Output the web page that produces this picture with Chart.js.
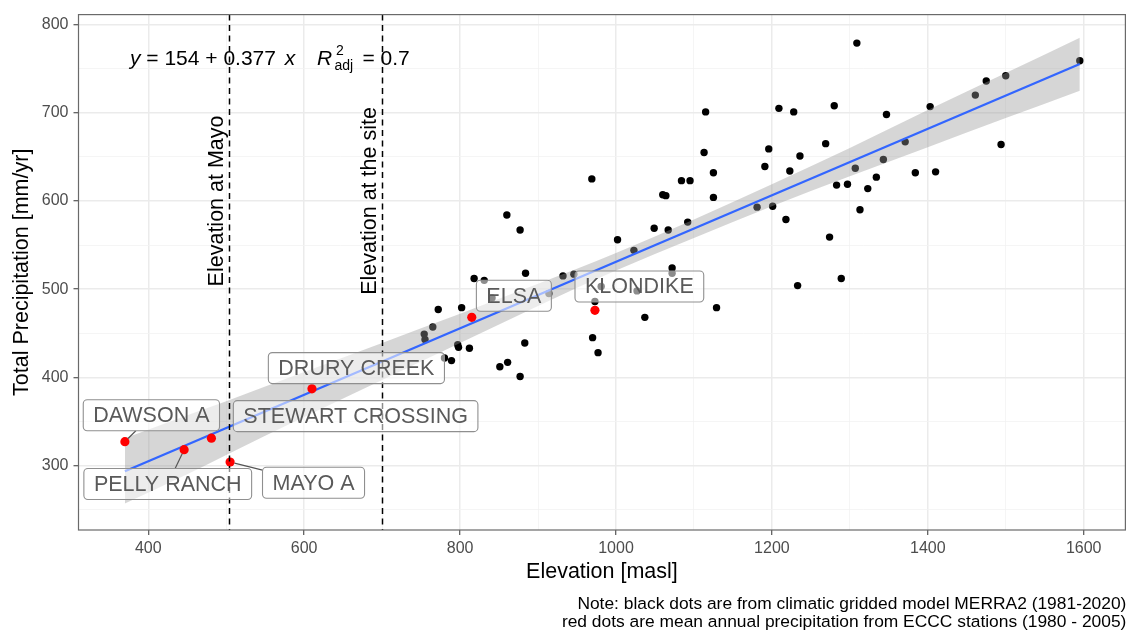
<!DOCTYPE html>
<html><head><meta charset="utf-8">
<script src="https://cdn.jsdelivr.net/npm/chart.js@4.4.1/dist/chart.umd.min.js"></script>
<style>html,body{margin:0;padding:0;background:#fff;}canvas{display:block;}</style>
</head><body>
<canvas id="c" width="1130" height="633"></canvas>
<script>
// ---- data ----
const merraElev = [860, 877, 969, 1002, 1023, 1049, 1060, 1064, 1067, 1084, 1095, 1092, 1115, 1113, 1125, 1125,
  1181, 1201, 1218, 1191, 1196, 1209, 1228, 1223, 1236, 1309, 1280, 1347, 1269, 1307, 1343, 1283, 1297, 1323,
  1334, 1313, 1274, 1384, 1410, 1371, 1403, 1461, 1475, 1500, 1494, 1595, 818, 831, 884, 932, 946, 1072, 1072,
  772, 802, 765, 754, 755, 797, 798, 812, 780, 789, 883, 851, 861, 877, 914, 970, 977, 1037, 1129, 1233, 973,
  1289, 841, 981, 1027];
const merraPrecip = [584, 567, 625, 556, 544, 569, 607, 606, 567, 623, 623, 576, 701, 655, 632, 604,
  593, 594, 579, 639, 659, 705, 701, 634, 651, 779, 708, 698, 665, 637, 647, 618, 619, 614,
  627, 590, 559, 632, 633, 667, 707, 720, 736, 742, 664, 759, 512, 510, 518, 515, 517, 524, 518,
  477, 479, 457, 449, 443, 437, 434, 433, 422, 419, 439, 412, 417, 401, 495, 445, 428, 468, 479, 504, 486,
  512, 490, 503, 498];
const stationNames = ['DAWSON A', 'PELLY RANCH', 'STEWART CROSSING', 'MAYO A', 'DRURY CREEK', 'ELSA', 'KLONDIKE'];
const stationElev = [370, 446, 481, 505, 610, 815, 973];
const stationPrecip = [327, 318, 331, 304, 387, 468, 476];
const fitElev = [370, 1595];
const fitPrecip = [293.5, 755.3];
const bandElev = [370, 450, 500, 600, 700, 800, 900, 1000, 1100, 1200, 1300, 1400, 1500, 1595];
const bandLower = [257, 290, 312, 355, 397, 439, 481, 521, 558, 594, 628, 661, 694, 725];
const bandUpper = [331, 357, 373, 406, 439, 472, 506, 541, 579, 619, 660, 703, 745, 785];
const refLineElev = [504, 700];
const refLineText = ['Elevation at Mayo', 'Elevation at the site'];
const xTickLabels = [400, 600, 800, 1000, 1200, 1400, 1600];
const yTickLabels = [300, 400, 500, 600, 700, 800];

// ---- layout / style ----
const FONT = '"Liberation Sans", Arial, Helvetica, sans-serif';
// label centres in data units (as placed by the repel layout) + whether a segment shows
const labelLayout = {
  'DAWSON A': {x: 404, y: 357, seg: true},
  'PELLY RANCH': {x: 425, y: 279, seg: true},
  'STEWART CROSSING': {x: 666, y: 356, seg: false},
  'MAYO A': {x: 612, y: 280.5, seg: true},
  'DRURY CREEK': {x: 667, y: 410.5, seg: false},
  'ELSA': {x: 869, y: 492.5, seg: false},
  'KLONDIKE': {x: 1030, y: 503, seg: false}
};

const pts = (xs, ys) => xs.map((v, i) => ({x: v, y: ys[i]}));

const overlay = {
  id: 'overlay',
  afterDraw(chart) {
    const {ctx, chartArea: a, scales: {x, y}} = chart;
    ctx.save();
    ctx.beginPath();
    ctx.rect(a.left, a.top, a.right - a.left, a.bottom - a.top);
    ctx.clip();
    // dashed reference lines + rotated texts
    refLineElev.forEach((v, i) => {
      const px = Math.round(x.getPixelForValue(v)) + 0.5;
      ctx.strokeStyle = '#000';
      ctx.lineWidth = 1.5;
      ctx.setLineDash([6, 4.5]);
      ctx.beginPath(); ctx.moveTo(px, a.top); ctx.lineTo(px, a.bottom); ctx.stroke();
      ctx.setLineDash([]);
      ctx.save();
      ctx.translate(px - 6.5, y.getPixelForValue(600));
      ctx.rotate(-Math.PI / 2);
      ctx.fillStyle = '#000';
      ctx.font = '21.5px ' + FONT;
      ctx.textAlign = 'center';
      ctx.textBaseline = 'alphabetic';
      ctx.fillText(refLineText[i], 0, 0);
      ctx.restore();
    });
    // repel-style labels
    ctx.font = '21.5px ' + FONT;
    stationNames.forEach((name, i) => {
      const L = labelLayout[name];
      const cx = x.getPixelForValue(L.x), cy = y.getPixelForValue(L.y);
      const tw = ctx.measureText(name).width;
      const w = tw + 20, h = 31;
      const bx = cx - w / 2, by = cy - h / 2;
      if (L.seg) {
        const ppx = x.getPixelForValue(stationElev[i]), ppy = y.getPixelForValue(stationPrecip[i]);
        const dx = cx - ppx, dy = cy - ppy;
        let t = 1;
        if (dx !== 0) { const tx = ((dx > 0 ? bx : bx + w) - ppx) / dx; if (tx > 0 && tx < t) { const yy = ppy + tx * dy; if (yy >= by && yy <= by + h) t = tx; } }
        if (dy !== 0) { const ty = ((dy > 0 ? by : by + h) - ppy) / dy; if (ty > 0 && ty < t) { const xx = ppx + ty * dx; if (xx >= bx && xx <= bx + w) t = ty; } }
        const len = Math.hypot(dx, dy);
        const s = 4.5 / len;
        ctx.strokeStyle = '#555';
        ctx.lineWidth = 1.2;
        ctx.beginPath();
        ctx.moveTo(ppx + s * dx, ppy + s * dy);
        ctx.lineTo(ppx + t * dx, ppy + t * dy);
        ctx.stroke();
      }
      ctx.beginPath();
      ctx.roundRect(bx, by, w, h, 4);
      ctx.fillStyle = 'rgba(255,255,255,0.55)';
      ctx.fill();
      ctx.strokeStyle = '#8f8f8f';
      ctx.lineWidth = 1.1;
      ctx.stroke();
      ctx.fillStyle = '#5a5a5a';
      ctx.textAlign = 'center';
      ctx.textBaseline = 'middle';
      ctx.fillText(name, cx, cy + 1);
    });
    ctx.restore();

    // regression equation
    ctx.save();
    ctx.fillStyle = '#000';
    ctx.textBaseline = 'alphabetic';
    ctx.textAlign = 'left';
    const ex = a.left + 51.5, ey = a.top + 50;
    let cur = ex;
    ctx.font = 'italic 21px ' + FONT; ctx.fillText('y', cur, ey); cur += ctx.measureText('y').width;
    ctx.font = '21px ' + FONT; const mid = ' = 154 + 0.377 '; ctx.fillText(mid, cur, ey); cur += ctx.measureText(mid).width;
    ctx.font = 'italic 21px ' + FONT; ctx.fillText('x', cur + 3, ey);
    ctx.fillText('R', ex + 187, ey);
    ctx.font = '14px ' + FONT;
    ctx.fillText('2', ex + 206, ey - 10);
    ctx.fillText('adj', ex + 204.5, ey + 5);
    ctx.font = '21px ' + FONT;
    ctx.fillText('= 0.7', ex + 232.5, ey);
    ctx.restore();

    // panel border
    ctx.save();
    ctx.strokeStyle = '#6a6a6a';
    ctx.lineWidth = 1.2;
    ctx.strokeRect(a.left, a.top, a.right - a.left, a.bottom - a.top);
    // axis titles
    ctx.fillStyle = '#000';
    ctx.font = '21.5px ' + FONT;
    ctx.textAlign = 'center';
    ctx.textBaseline = 'alphabetic';
    ctx.fillText('Elevation [masl]', (a.left + a.right) / 2, 578);
    ctx.save();
    ctx.translate(28, (a.top + a.bottom) / 2);
    ctx.rotate(-Math.PI / 2);
    ctx.fillText('Total Precipitation [mm/yr]', 0, 0);
    ctx.restore();
    // caption
    ctx.font = '17.4px ' + FONT;
    ctx.textAlign = 'right';
    ctx.fillText('Note: black dots are from climatic gridded model MERRA2 (1981-2020)', a.right + 1, 609);
    ctx.fillText('red dots are mean annual precipitation from ECCC stations (1980 - 2005)', a.right + 1, 627);
    ctx.restore();
  }
};

const gridColor = (list) => (c) => list.includes(c.tick && c.tick.value) ? '#ebebeb' : '#f3f3f3';
const gridWidth = (list) => (c) => list.includes(c.tick && c.tick.value) ? 1.5 : 0.8;
const tickColor = (list) => (c) => list.includes(c.tick && c.tick.value) ? '#333' : 'rgba(0,0,0,0)';

new Chart(document.getElementById('c'), {
  type: 'scatter',
  data: {
    datasets: [
      {label: 'ECCC stations', data: pts(stationElev, stationPrecip), backgroundColor: '#ff0000',
        pointRadius: 4.6, pointBorderWidth: 0, borderWidth: 0, showLine: false},
      {label: 'fit', type: 'line', data: pts(fitElev, fitPrecip), borderColor: '#3366ff', borderWidth: 2.3,
        pointRadius: 0, fill: false},
      {label: 'upper', type: 'line', data: pts(bandElev, bandUpper), borderColor: 'rgba(0,0,0,0)', borderWidth: 0.01,
        pointRadius: 0, fill: '+1', backgroundColor: 'rgba(153,153,153,0.4)', cubicInterpolationMode: 'monotone'},
      {label: 'lower', type: 'line', data: pts(bandElev, bandLower), borderColor: 'rgba(0,0,0,0)', borderWidth: 0.01,
        pointRadius: 0, fill: false, cubicInterpolationMode: 'monotone'},
      {label: 'MERRA2', data: pts(merraElev, merraPrecip), backgroundColor: '#000',
        pointRadius: 3.7, pointBorderWidth: 0, borderWidth: 0, showLine: false}
    ]
  },
  options: {
    responsive: false,
    animation: false,
    devicePixelRatio: 1,
    events: [],
    layout: {padding: {top: 10.7, right: 4, left: 0, bottom: 0}},
    plugins: {legend: {display: false}, tooltip: {enabled: false}},
    scales: {
      x: {
        type: 'linear', min: 310.5, max: 1653.5,
        afterFit: (s) => { s.height = 103; },
        border: {display: false},
        grid: {color: gridColor(xTickLabels), lineWidth: gridWidth(xTickLabels), tickLength: 5,
          tickColor: tickColor(xTickLabels), tickWidth: 1},
        ticks: {stepSize: 100, includeBounds: false, autoSkip: false, maxRotation: 0, padding: 4,
          color: '#4d4d4d', font: {family: FONT, size: 16},
          callback: (v) => xTickLabels.includes(v) ? String(v) : ''}
      },
      y: {
        type: 'linear', min: 226.9, max: 811.3,
        afterFit: (s) => { s.width = 78.5; },
        border: {display: false},
        grid: {color: gridColor(yTickLabels), lineWidth: gridWidth(yTickLabels), tickLength: 5,
          tickColor: tickColor(yTickLabels), tickWidth: 1},
        ticks: {stepSize: 50, includeBounds: false, autoSkip: false, padding: 5,
          color: '#4d4d4d', font: {family: FONT, size: 16},
          callback: (v) => yTickLabels.includes(v) ? String(v) : ''}
      }
    }
  },
  plugins: [overlay]
});
</script>
</body></html>
